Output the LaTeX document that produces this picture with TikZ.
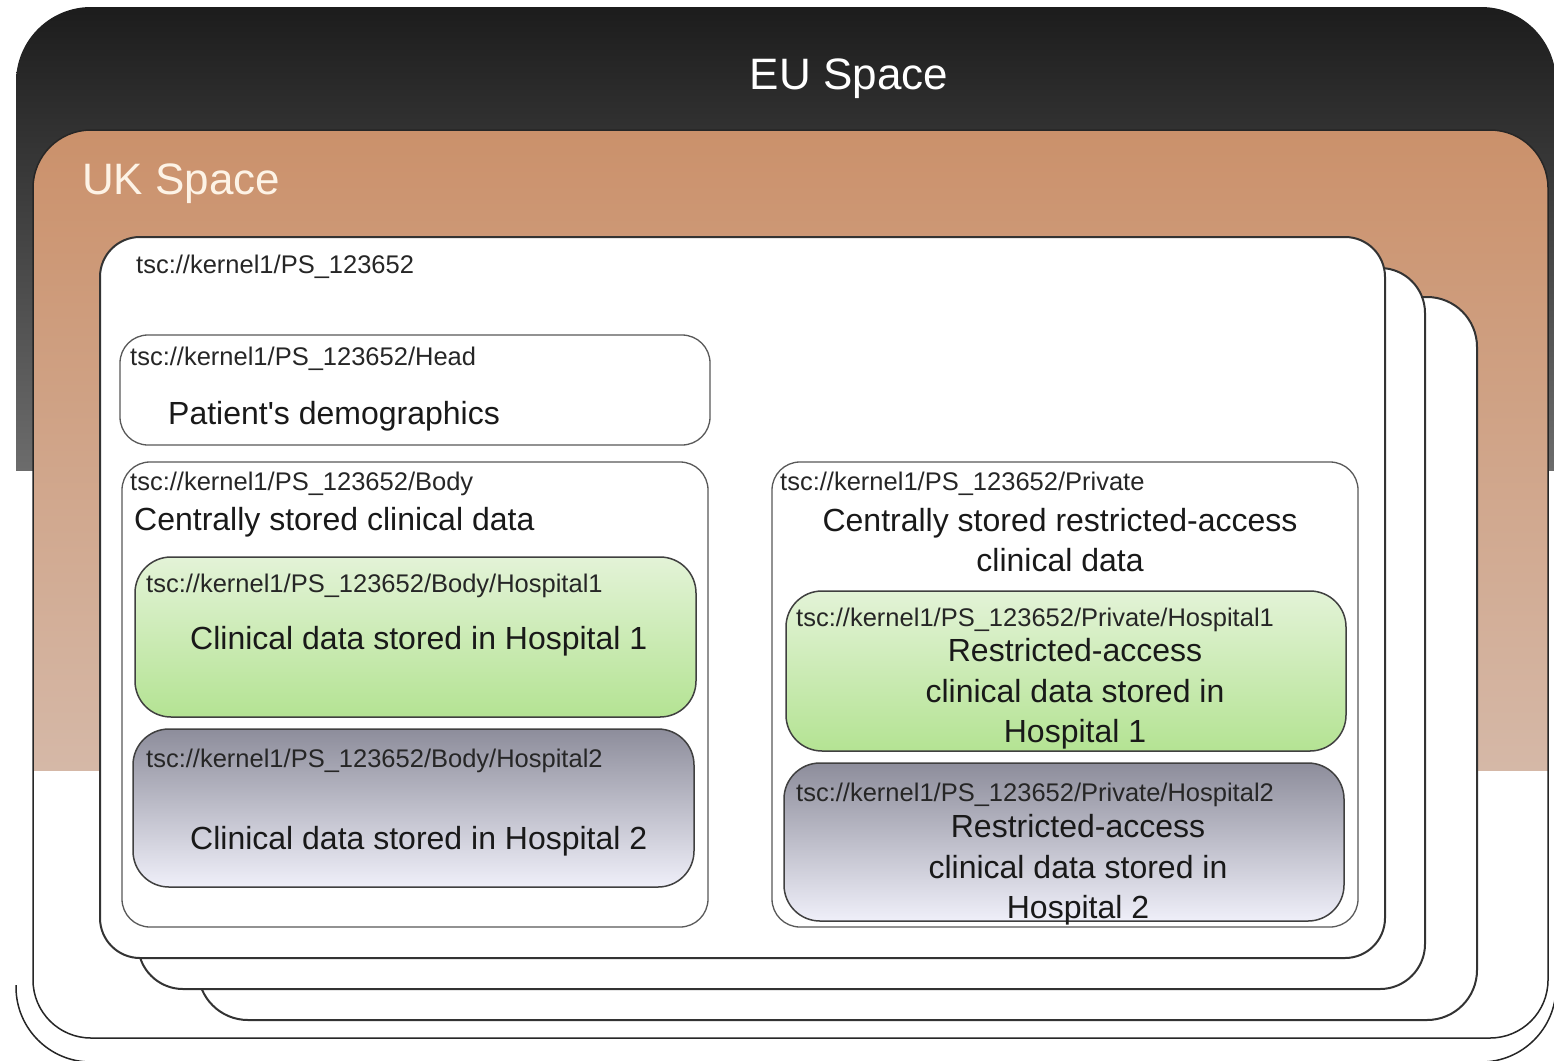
\documentclass[tikz,border=0pt]{standalone}
\usepackage{fontspec}
\setmainfont{Liberation Sans}
\definecolor{eutop}{HTML}{1B1B1B}
\definecolor{eubot}{HTML}{6C6C6C}
\definecolor{uktop}{HTML}{CB916B}
\definecolor{ukbot}{HTML}{D5B8A7}
\definecolor{uktext}{HTML}{FDF3E6}
\definecolor{grtop}{HTML}{E3F3D7}
\definecolor{grbot}{HTML}{B4E393}
\definecolor{gytop}{HTML}{8D8D9B}
\definecolor{gybot}{HTML}{EFEFF9}
\begin{document}
\begin{tikzpicture}[x=1pt,y=-1pt,
  lbl/.style={anchor=mid west, inner sep=0pt, font=\fontsize{25.5}{30}\selectfont, text=black!85},
  big/.style={inner sep=0pt, font=\fontsize{32}{40.5}\selectfont, text=black!90},
  title/.style={inner sep=0pt, font=\fontsize{44}{50}\selectfont},
  page/.style={fill=white, draw=black!80, line width=2pt},
  inner/.style={fill=white, draw=black!65, line width=1.3pt, rounded corners=28pt},
  greenbox/.style={draw=black!75, line width=1.5pt, rounded corners=36pt, top color=grtop, bottom color=grbot},
  graybox/.style={draw=black!75, line width=1.5pt, rounded corners=36pt, top color=gytop, bottom color=gybot}]
\useasboundingbox (0,0) rectangle (1554,1060);
% EU space
\begin{scope}
  \path[clip, rounded corners=75pt] (16,7) rectangle (1556,1062);
  \fill[white] (0,0) rectangle (1560,1070);
  \shade[top color=eutop, bottom color=eubot] (0,0) rectangle (1560,470);
\end{scope}
\draw[black!85, line width=1.5pt, rounded corners=75pt] (16,985) -- (16,1062) -- (200,1062);
\draw[black!85, line width=1.5pt, rounded corners=75pt] (1556,985) -- (1556,1062) -- (1400,1062);
\node[title, text=white] (eu) at (849,79) {EU Space};
% UK space
\begin{scope}
  \path[clip, rounded corners=58pt] (33,130) rectangle (1548,1038);
  \fill[white] (0,0) rectangle (1560,1070);
  \shade[top color=uktop, bottom color=ukbot] (0,130) rectangle (1560,770);
\end{scope}
\draw[black!85, line width=1.5pt, rounded corners=58pt] (33,130) rectangle (1548,1038);
\node[title, text=uktext, anchor=mid west] (uk) at (82,192) {UK Space};
% stacked pages
\draw[page, rounded corners=50pt] (198,297) rectangle (1477,1020);
\draw[page, rounded corners=45pt] (138,268) rectangle (1425,989);
\draw[page, rounded corners=40pt] (100,237) rectangle (1385,958);
\node[lbl] (pslbl) at (136,271) {tsc://kernel1/PS\_123652};
% Head
\draw[inner] (120,335) rectangle (710,445);
\node[lbl] (headlbl) at (130,363) {tsc://kernel1/PS\_123652/Head};
\node[big, anchor=mid west] (headtxt) at (168,422) {Patient\textquotesingle s demographics};
% Body
\draw[inner] (122,462) rectangle (708,927);
\node[lbl] (bodylbl) at (130,488) {tsc://kernel1/PS\_123652/Body};
\node[big, anchor=mid west] (bodytxt) at (134,528) {Centrally stored clinical data};
\shade[greenbox] (135,557) rectangle (696,717);
\node[lbl] (bh1lbl) at (146,590) {tsc://kernel1/PS\_123652/Body/Hospital1};
\node[big, anchor=mid west] (bh1txt) at (190,647) {Clinical data stored in Hospital 1};
\shade[graybox] (133,729) rectangle (694,887);
\node[lbl] (bh2lbl) at (146,765) {tsc://kernel1/PS\_123652/Body/Hospital2};
\node[big, anchor=mid west] (bh2txt) at (190,847) {Clinical data stored in Hospital 2};
% Private
\draw[inner] (772,462) rectangle (1358,927);
\node[lbl] (privlbl) at (780,488) {tsc://kernel1/PS\_123652/Private};
\node[big, align=center] (privtxt) at (1060,540) {Centrally stored restricted-access\\clinical data};
\shade[greenbox] (786,591) rectangle (1346,751);
\node[lbl] (ph1lbl) at (796,624) {tsc://kernel1/PS\_123652/Private/Hospital1};
\node[big, align=center] (ph1txt) at (1075,694) {Restricted-access\\clinical data stored in\\Hospital 1};
\shade[graybox] (784,763) rectangle (1344,921);
\node[lbl] (ph2lbl) at (796,799) {tsc://kernel1/PS\_123652/Private/Hospital2};
\node[big, align=center] (ph2txt) at (1078,870) {Restricted-access\\clinical data stored in\\Hospital 2};
\end{tikzpicture}
\end{document}
